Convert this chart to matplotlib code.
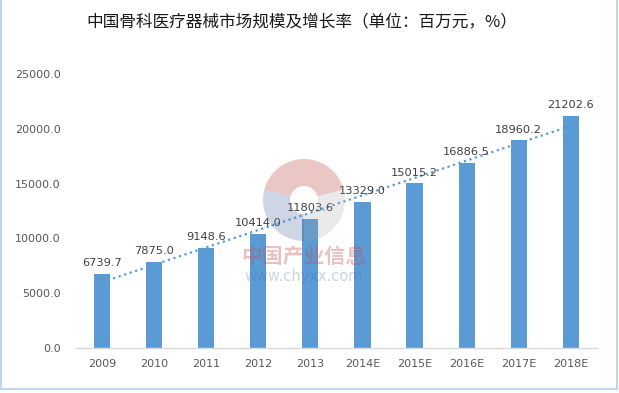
import matplotlib.pyplot as plt
from matplotlib.patches import Wedge, Rectangle
import numpy as np

plt.rcParams['font.family'] = ['Noto Sans CJK SC', 'DejaVu Sans']

years = ['2009', '2010', '2011', '2012', '2013', '2014E', '2015E', '2016E', '2017E', '2018E']
market = [6739.7, 7875.0, 9148.6, 10414.0, 11803.6, 13329.0, 15015.2, 16886.5, 18960.2, 21202.6]
yticks = [0, 5000, 10000, 15000, 20000, 25000]

title = '中国骨科医疗器械市场规模及增长率（单位：百万元，%）'
bar_color = '#5B9BD5'

fig = plt.figure(figsize=(6.19, 3.93), dpi=100)
ax = fig.add_axes([0.123, 0.1153, 0.841, 0.6957])

x = np.arange(len(years))

# linear trend line, Excel style, sits behind the bars
k, b = np.polyfit(x, market, 1)
ax.plot(x, k * x + b, linestyle=(0, (1, 1.6)), color=bar_color, linewidth=1.6, zorder=1)

ax.bar(x, market, width=0.31, color=bar_color, zorder=2)

for xi, v in zip(x, market):
    ax.annotate(f'{v:.1f}', (xi, v), xytext=(0, 4), textcoords='offset points',
                ha='center', va='bottom', fontsize=8.2, color='#404040',
                family='DejaVu Sans', zorder=3)

ax.set_xlim(-0.5, len(years) - 0.5)
ax.set_ylim(0, 25000)
ax.set_yticks(yticks)
ax.set_yticklabels([f'{t:.1f}' for t in yticks], family='DejaVu Sans')
ax.set_xticks(x)
ax.set_xticklabels(years, family='DejaVu Sans')
ax.tick_params(axis='both', length=0, labelsize=8, colors='#595959')
ax.tick_params(axis='y', pad=11)
ax.tick_params(axis='x', pad=8)

for s in ['top', 'right', 'left']:
    ax.spines[s].set_visible(False)
ax.spines['bottom'].set_color('#D9D9D9')
ax.spines['bottom'].set_linewidth(1.0)

fig.text(0.488, 0.945, title, ha='center', va='center', fontsize=12, color='#1a1a1a')

# faint watermark
wax = fig.add_axes([0.0, 0.0, 1.0, 1.0], zorder=5)
wax.set_xlim(0, 619)
wax.set_ylim(393, 0)
wax.axis('off')
wax.set_aspect('equal')
c = (304, 200)
wax.add_patch(Wedge(c, 41, 195, 345, width=27, color='#C0504D', alpha=0.32, lw=0))
wax.add_patch(Wedge(c, 41, 90, 195, width=27, color='#4F6FA8', alpha=0.28, lw=0))
wax.add_patch(Wedge(c, 41, -15, 90, width=27, color='#A0A0A0', alpha=0.22, lw=0))
wax.text(304, 257, '中国产业信息', ha='center', va='center', fontsize=15, fontweight='bold',
         color='#C0504D', alpha=0.35)
wax.text(304, 277, 'www.chyxx.com', ha='center', va='center', fontsize=10.5,
         color='#4F6FA8', alpha=0.3, family='DejaVu Sans')

# light blue frame around the picture
wax.add_patch(Rectangle((1, -5), 616, 394, fill=False, edgecolor='#BDD7EE', linewidth=1.5))

fig.savefig('out.png', dpi=100)
